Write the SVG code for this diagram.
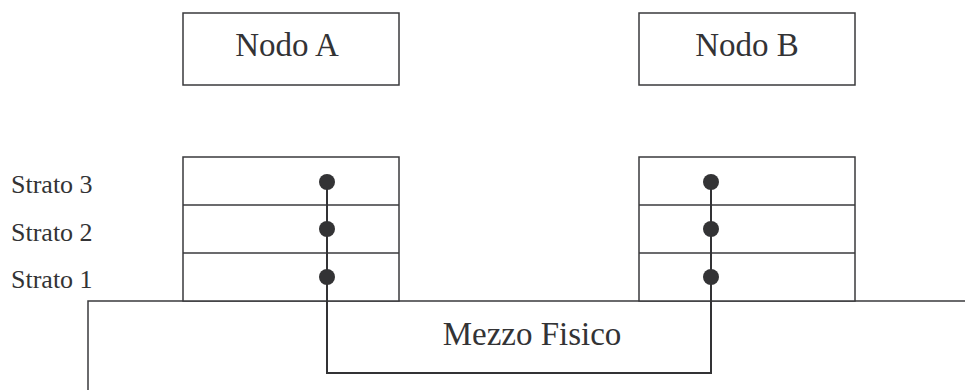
<svg xmlns="http://www.w3.org/2000/svg" width="965" height="390" viewBox="0 0 965 390">
  <style>
    .box { fill: #fff; stroke: #3a3a3c; stroke-width: 1.5; }
    .line { fill: none; stroke: #3a3a3c; stroke-width: 1.5; }
    .link { fill: none; stroke: #333335; stroke-width: 2; }
    .dot { fill: #333335; }
    text { font-family: "Times New Roman", Times, "Liberation Serif", Tinos, "Noto Serif", "DejaVu Serif", serif; fill: #333335; }
    .big { font-size: 33px; }
    .small { font-size: 26px; }
  </style>
  <rect width="965" height="390" fill="#fff"/>

  <!-- physical medium outline -->
  <g id="mezzo">
    <polyline class="line" points="88,390 88,301 965,301"/>
    <text class="big" x="532" y="345" text-anchor="middle">Mezzo Fisico</text>
  </g>

  <g id="nodo-a">
    <rect class="box" x="183" y="13" width="216" height="72"/>
    <text class="big" x="287" y="56" text-anchor="middle">Nodo A</text>
  </g>
  <g id="nodo-b">
    <rect class="box" x="639" y="13" width="216" height="72"/>
    <text class="big" x="747" y="56" text-anchor="middle">Nodo B</text>
  </g>

  <g id="strati-labels">
    <text class="small" x="11" y="193">Strato 3</text>
    <text class="small" x="11" y="241">Strato 2</text>
    <text class="small" x="11" y="288">Strato 1</text>
  </g>

  <g id="stack-a">
    <rect class="box" x="183" y="157" width="216" height="144"/>
    <line class="line" x1="183" y1="205" x2="399" y2="205"/>
    <line class="line" x1="183" y1="253" x2="399" y2="253"/>
  </g>
  <g id="stack-b">
    <rect class="box" x="639" y="157" width="216" height="144"/>
    <line class="line" x1="639" y1="205" x2="855" y2="205"/>
    <line class="line" x1="639" y1="253" x2="855" y2="253"/>
  </g>

  <g id="connectors">
    <polyline class="link" points="327,182 327,373 711,373 711,182"/>
    <circle class="dot" cx="327" cy="182" r="8"/>
    <circle class="dot" cx="327" cy="229" r="8"/>
    <circle class="dot" cx="327" cy="277" r="8"/>
    <circle class="dot" cx="711" cy="182" r="8"/>
    <circle class="dot" cx="711" cy="229" r="8"/>
    <circle class="dot" cx="711" cy="277" r="8"/>
  </g>
</svg>
